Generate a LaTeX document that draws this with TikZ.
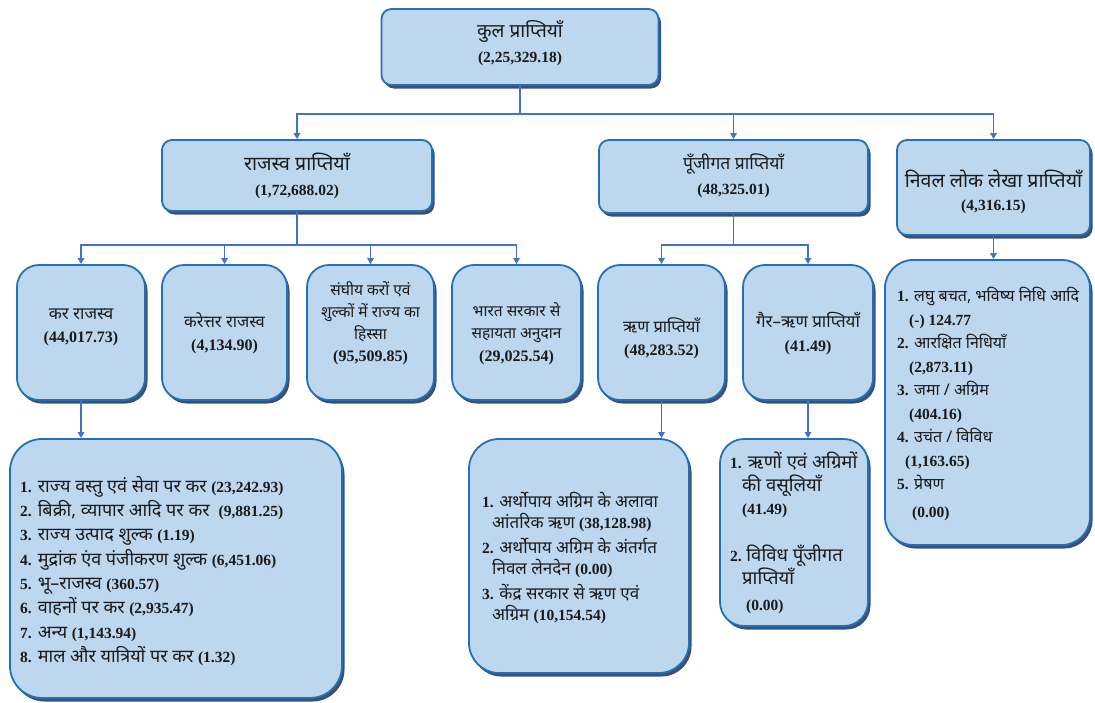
\documentclass[tikz,border=0pt]{standalone}
\usepackage{fontspec}
\setmainfont{Liberation Serif}
\newfontfamily\hif[Script=Devanagari]{Noto Sans}
\usetikzlibrary{arrows.meta,shadows}
\definecolor{boxfill}{HTML}{BDD7EE}
\definecolor{boxline}{HTML}{2170BA}
\definecolor{connc}{HTML}{4472C4}
\definecolor{shadc}{HTML}{1F3050}
\definecolor{txtc}{HTML}{1A1A1A}
\newcommand\hi[1]{{\hif #1}}
\newcommand\nm[2][15.5]{{\fontsize{#1}{\baselineskip}\selectfont\bfseries #2}}
\newcommand\ind{\hspace*{12pt}}
\begin{document}
\begin{tikzpicture}[x=1pt,y=-1pt,
 box/.style={draw=boxline, line width=1.8pt, fill=boxfill, rounded corners=#1,
   drop shadow={shadow xshift=2.5pt, shadow yshift=-3.5pt, fill=shadc, opacity=0.85}, inner sep=0pt},
 box/.default=10pt,
 lbl/.style={align=center, text=txtc, inner sep=0pt},
 lst/.style={align=left, text=txtc, inner sep=0pt, anchor=west},
 link/.style={draw=connc, line width=1.5pt},
 arr/.style={link, -{Triangle[length=6pt,width=6.5pt]}}
]
\useasboundingbox (0,0) rectangle (1095,702);

% level 1
\node[box, minimum width=277pt, minimum height=76pt] (top) at (520,47) {};
\node[lbl, font=\fontsize{19}{25}\selectfont] (topl) at (520,43) {\hi{कुल प्राप्तियाँ}\\\nm{(2,25,329.18)}};

% level 2
\node[box, minimum width=270pt, minimum height=71pt] (rev) at (297,175.5) {};
\node[lbl, font=\fontsize{19.5}{25}\selectfont] (revl) at (297,175.5) {\hi{राजस्व प्राप्तियाँ}\\\nm{(1,72,688.02)}};
\node[box, minimum width=269pt, minimum height=73pt] (cap) at (733.5,176.5) {};
\node[lbl, font=\fontsize{17.5}{25}\selectfont] (capl) at (733.5,175.5) {\hi{पूँजीगत प्राप्तियाँ}\\\nm{(48,325.01)}};
\node[box, minimum width=193pt, minimum height=95pt] (pub) at (993.5,187.5) {};
\node[lbl, font=\fontsize{19.5}{23}\selectfont] (publ) at (993.5,191.5) {\hi{निवल लोक लेखा प्राप्तियाँ}\\\nm{(4,316.15)}};

% level 3
\node[box=22pt, minimum width=128pt, minimum height=135pt] (b1) at (81,332.5) {};
\node[lbl, font=\fontsize{17}{23}\selectfont] (b1l) at (81,327.5) {\hi{कर राजस्व}\\\nm[16]{(44,017.73)}};
\node[box=22pt, minimum width=125pt, minimum height=135pt] (b2) at (224.5,332.5) {};
\node[lbl, font=\fontsize{16.5}{23}\selectfont] (b2l) at (224.5,333.5) {\hi{करेत्तर राजस्व}\\\nm[16]{(4,134.90)}};
\node[box=22pt, minimum width=127pt, minimum height=135pt] (b3) at (370.5,332.5) {};
\node[lbl, font=\fontsize{15.5}{22}\selectfont] (b3l) at (370.5,323) {\hi{संघीय करों एवं}\\\hi{शुल्कों में राज्य का}\\\hi{हिस्सा}\\\nm[16]{(95,509.85)}};
\node[box=22pt, minimum width=129pt, minimum height=135pt] (b4) at (516.5,332.5) {};
\node[lbl, font=\fontsize{15.5}{22.5}\selectfont] (b4l) at (516.5,333.5) {\hi{भारत सरकार से}\\\hi{सहायता अनुदान}\\\nm[16]{(29,025.54)}};
\node[box=22pt, minimum width=127pt, minimum height=135pt] (b5) at (661.5,332.5) {};
\node[lbl, font=\fontsize{16.5}{23}\selectfont] (b5l) at (661.5,338.5) {\hi{ऋण प्राप्तियाँ}\\\nm[16]{(48,283.52)}};
\node[box=22pt, minimum width=130pt, minimum height=135pt] (b6) at (808,332.5) {};
\node[lbl, font=\fontsize{17}{24}\selectfont] (b6l) at (808,334) {\hi{गैर–ऋण प्राप्तियाँ}\\\nm[16]{(41.49)}};

% public account list
\node[box=28pt, minimum width=205pt, minimum height=285pt] (publist) at (987.5,402.5) {};
\node[lst, font=\fontsize{16}{23.5}\selectfont] (publistl) at (897,404) {%
\nm{1.} \hi{लघु बचत, भविष्य निधि आदि}\\
\ind\nm{(-) 124.77}\\
\nm{2.} \hi{आरक्षित निधियाँ}\\
\ind\nm{(2,873.11)}\\
\nm{3.} \hi{जमा / अग्रिम}\\
\ind\nm{(404.16)}\\
\nm{4.} \hi{उचंत / विविध}\\
\hspace*{8pt}\nm{(1,163.65)}\\
\nm{5.} \hi{प्रेषण}\\[4pt]
\hspace*{15pt}\nm{(0.00)}};

% tax revenue list
\node[box=32pt, minimum width=332pt, minimum height=259pt] (karlist) at (176,568.5) {};
\node[lst, font=\fontsize{18}{24.3}\selectfont] (karlistl) at (20,571) {%
\nm{1.} \hi{राज्य वस्तु एवं सेवा पर कर} \nm{(23,242.93)}\\
\nm{2.} \hi{बिक्री, व्यापार आदि पर कर}\ \ \nm{(9,881.25)}\\
\nm{3.} \hi{राज्य उत्पाद शुल्क} \nm{(1.19)}\\
\nm{4.} \hi{मुद्रांक एंव पंजीकरण शुल्क} \nm{(6,451.06)}\\
\nm{5.} \hi{भू–राजस्व} \nm{(360.57)}\\
\nm{6.} \hi{वाहनों पर कर} \nm{(2,935.47)}\\
\nm{7.} \hi{अन्य} \nm{(1,143.94)}\\
\nm{8.} \hi{माल और यात्रियों पर कर} \nm{(1.32)}};

% loan receipts list
\node[box=30pt, minimum width=220pt, minimum height=234pt] (loanlist) at (579,556) {};
\node[lst, font=\fontsize{17}{21}\selectfont] (loanlistl) at (482,558) {%
\nm{1.} \hi{अर्थोपाय अग्रिम के अलावा}\\
\hspace*{10pt}\hi{आंतरिक ऋण} \nm{(38,128.98)}\\[4pt]
\nm{2.} \hi{अर्थोपाय अग्रिम के अंतर्गत}\\
\hspace*{10pt}\hi{निवल लेनदेन} \nm{(0.00)}\\[4pt]
\nm{3.} \hi{केंद्र सरकार से ऋण एवं}\\
\hspace*{10pt}\hi{अग्रिम} \nm{(10,154.54)}};

% non-loan receipts list
\node[box=24pt, minimum width=148pt, minimum height=187pt] (nllist) at (794,532.5) {};
\node[lst, font=\fontsize{18.5}{23}\selectfont] (nllistl) at (730,532.5) {%
\nm{1.} \hi{ऋणों एवं अग्रिमों}\\
\ind\hi{की वसूलियाँ}\\
\ind\nm{(41.49)}\\[24pt]
\nm{2.}\ \hi{विविध पूँजीगत}\\
\ind\hi{प्राप्तियाँ}\\[3pt]
\hspace*{16pt}\nm{(0.00)}};

% connectors
\coordinate (j1) at (520,114);
\draw[link] (top.south) -- (j1);
\draw[arr] (j1) -| (rev.north);
\draw[arr] (j1) -| (cap.north);
\draw[arr] (j1) -| (pub.north);
\coordinate (j2) at (297,245);
\draw[link] (rev.south) -- (j2);
\draw[arr] (j2) -| (b1.north);
\draw[arr] (j2) -| (b2.north);
\draw[arr] (j2) -| (b3.north);
\draw[arr] (j2) -| (b4.north);
\coordinate (j3) at (733.5,245);
\draw[link] (cap.south) -- (j3);
\draw[arr] (j3) -| (b5.north);
\draw[arr] (j3) -| (b6.north);
\draw[arr] (pub.south) -- (pub.south |- publist.north);
\draw[arr] (b1.south) -- (b1.south |- karlist.north);
\draw[arr] (b5.south) -- (b5.south |- loanlist.north);
\draw[arr] (b6.south) -- (b6.south |- nllist.north);
\end{tikzpicture}
\end{document}
